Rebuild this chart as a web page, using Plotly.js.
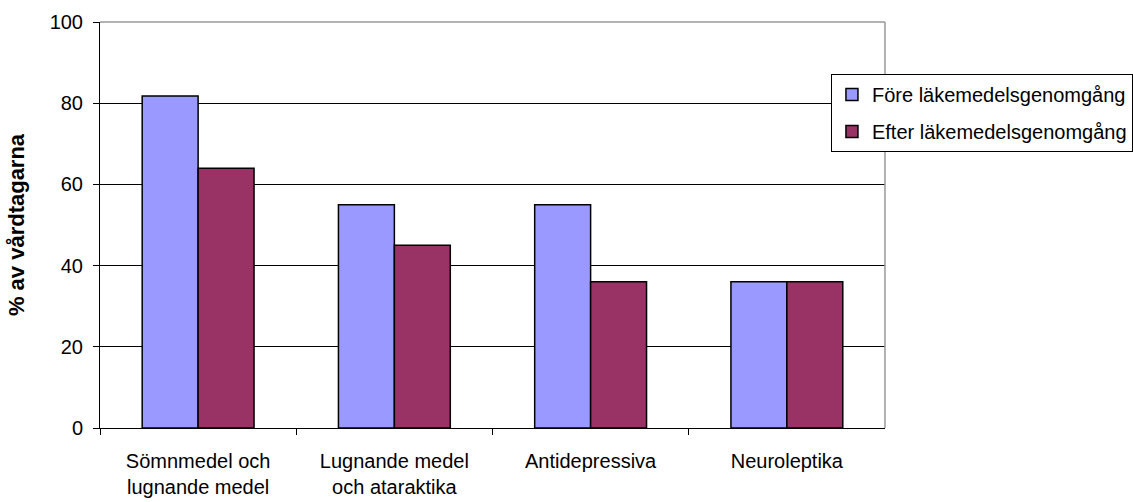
<!DOCTYPE html>
<html><head><meta charset="utf-8">
<script src="https://cdn.plot.ly/plotly-3.0.1.min.js"></script>
<style>body{margin:0;background:#fff}#c{width:1133px;height:502px}</style>
</head><body><div id="c"></div>
<script>
var categories = ["Sömnmedel och<br>lugnande medel", "Lugnande medel<br>och ataraktika", "Antidepressiva", "Neuroleptika"];
var seriesNames = ["Före läkemedelsgenomgång", "Efter läkemedelsgenomgång"];
var fore = [81.8, 55.0, 55.0, 36.0];
var efter = [64.0, 45.0, 36.0, 36.0];
var yTicks = [0, 20, 40, 60, 80, 100];

var fontFam = "Arial, 'Liberation Sans', sans-serif";
var traces = [
  {type:"bar", x:categories, y:fore, name:seriesNames[0], legendgroup:"a",
   marker:{color:"#9999FF", line:{color:"#000", width:1.5}}},
  {type:"bar", x:categories, y:efter, name:seriesNames[1], legendgroup:"b",
   marker:{color:"#993366", line:{color:"#000", width:1.5}}}
];
var layout = {
  width:1133, height:502,
  margin:{l:100, r:0, t:22, b:74},
  paper_bgcolor:"#fff", plot_bgcolor:"#fff",
  barmode:"group", bargap:0.43, bargroupgap:0,
  font:{family:fontFam, size:20, color:"#000"},
  xaxis:{type:"category", domain:[0, 0.7599], tickson:"boundaries", ticks:"outside", ticklen:6, tickcolor:"#000",
    showline:true, linecolor:"#000", linewidth:1, showgrid:false, ticklabelstandoff:15,
    tickfont:{size:20, family:fontFam}, automargin:false},
  yaxis:{range:[0,100], tickvals:yTicks, ticktext:yTicks.map(String), ticks:"outside", ticklen:6, tickcolor:"#000",
    showline:true, linecolor:"#000", linewidth:1, showgrid:true, gridcolor:"#000", gridwidth:1,
    zeroline:false, tickfont:{size:20, family:fontFam}, automargin:false, ticklabelstandoff:6,
    title:{text:"<b>% av vårdtagarna</b>", font:{size:22, family:fontFam}, standoff:18}},
  legend:{x:0.7076, xanchor:"left", y:0.872, yanchor:"top",
    bordercolor:"#000", borderwidth:1,
    bgcolor:"#fff", font:{size:20, family:fontFam}, tracegroupgap:8, traceorder:"grouped"},
  shapes:[
    {type:"line", xref:"x domain", yref:"y domain", x0:0, x1:1, y0:1, y1:1, line:{color:"#999", width:1.5}},
    {type:"line", xref:"x domain", yref:"y domain", x0:1, x1:1, y0:0, y1:1, line:{color:"#999", width:1.5}}
  ]
};
Plotly.newPlot("c", traces, layout, {displayModeBar:false, staticPlot:true});
</script></body></html>
